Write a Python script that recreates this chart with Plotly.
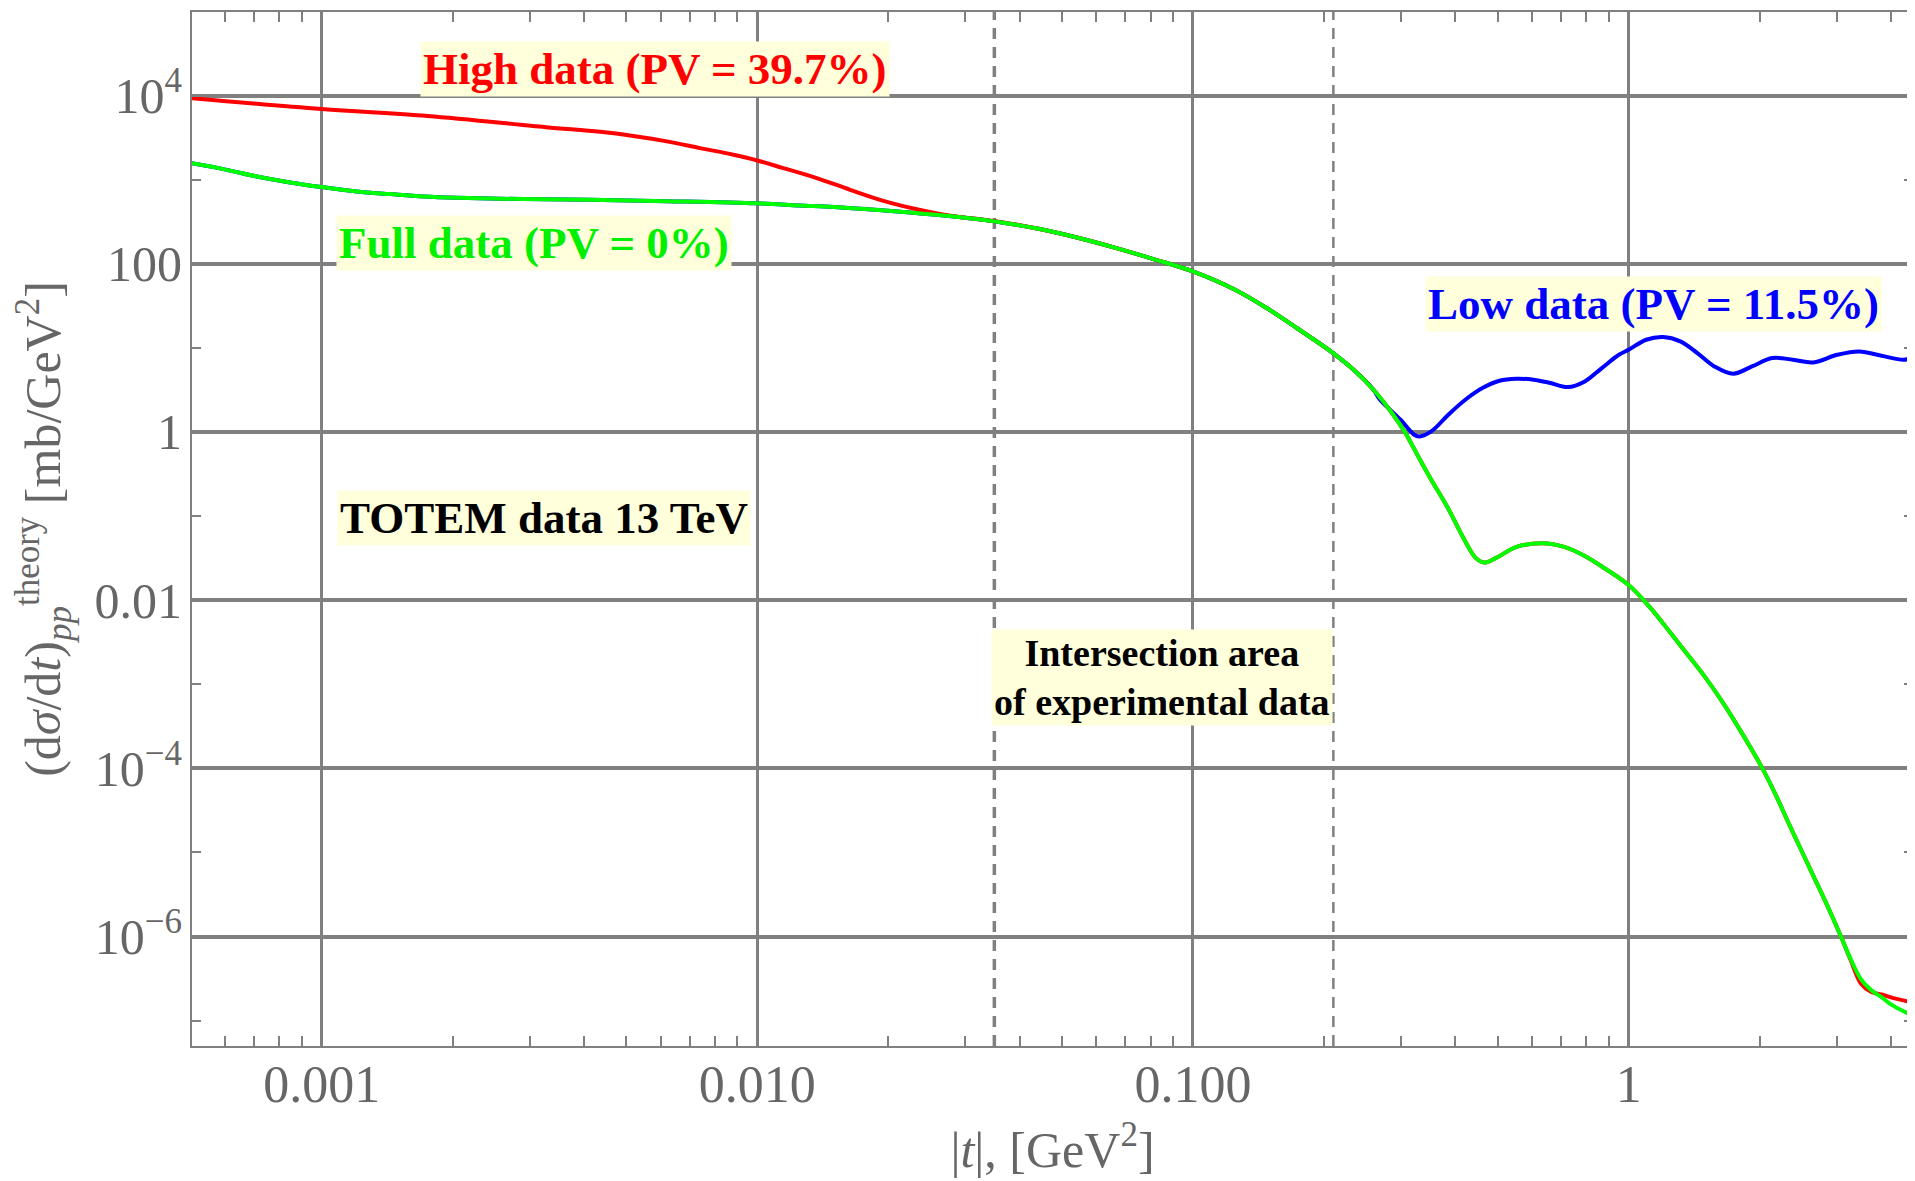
import plotly.graph_objects as go

# |t| values [GeV^2] and theory dsigma/dt [mb/GeV^2]
t_full = [0.000504, 0.000595, 0.00071, 0.000846, 0.001, 0.001205, 0.001436, 0.001713,
          0.002043, 0.002905, 0.004132, 0.0062, 0.01, 0.0125, 0.015, 0.0213,
          0.0303, 0.0361, 0.0439, 0.0541, 0.0667, 0.0822, 0.0999, 0.1249,
          0.1476, 0.1709, 0.1897, 0.2097, 0.2337, 0.2596, 0.2881, 0.3067,
          0.332, 0.3523, 0.3855, 0.4218, 0.4455, 0.466, 0.4963, 0.5529,
          0.6328, 0.7116, 0.7931, 0.8839, 1.0, 1.117, 1.245, 1.362,
          1.491, 1.631, 1.785, 2.025, 2.177, 2.339, 2.514, 2.654,
          2.853, 3.066, 3.236, 3.416, 3.606, 3.807, 4.018, 4.544]
y_full = [1563, 1334, 1089, 925, 815, 723, 673, 630,
          608, 587, 578, 555, 522, 492, 472, 414,
          350, 312, 262, 205, 153.4, 111.4, 81, 49,
          29.7, 17.97, 12.48, 8.66, 5.49, 3.176, 1.602, 0.988,
          0.4676, 0.2704, 0.1221, 0.0498, 0.03185, 0.02797, 0.03185, 0.04292,
          0.04741, 0.04292, 0.03348, 0.02362, 0.0151, 0.00831, 0.004144, 0.00229,
          0.001256, 6.46e-4, 3.09e-4, 1.013e-4, 4.8e-5, 2.126e-5, 9.59e-6, 5.28e-6,
          2.38e-6, 1.022e-6, 5.35e-7, 3.1e-7, 2.3e-7, 1.9e-7, 1.54e-7, 1.11e-7]

t_high = [0.000504, 0.001, 0.00175, 0.00327, 0.004356, 0.005195, 0.006198, 0.007391,
          0.008813, 0.01, 0.01148, 0.01369, 0.01633, 0.01947, 0.02323, 0.0277,
          0.03303, 0.0361, 0.0439, 0.0541, 0.0667, 0.0822, 0.0999, 0.1249,
          0.1476, 0.1709, 0.1897, 0.2097, 0.2337, 0.2596, 0.2881, 0.3067,
          0.332, 0.3523, 0.3855, 0.4218, 0.4455, 0.466, 0.4963, 0.5529,
          0.6328, 0.7116, 0.7931, 0.8839, 1.0, 1.117, 1.245, 1.362,
          1.491, 1.631, 1.785, 2.025, 2.177, 2.339, 2.514, 2.654,
          2.853, 3.066, 3.236, 3.416, 3.606, 3.807, 4.018, 4.544]
y_high = [9300, 6900, 5700, 4200, 3700, 3300, 2850, 2370,
          1973, 1690, 1371, 1043, 757, 560, 445, 372,
          333, 314, 262, 205, 153.4, 111.4, 81, 49,
          29.7, 17.97, 12.48, 8.66, 5.49, 3.176, 1.602, 0.988,
          0.4676, 0.2704, 0.1221, 0.0498, 0.03185, 0.02797, 0.03185, 0.04292,
          0.04741, 0.04292, 0.03348, 0.02362, 0.0151, 0.00831, 0.004144, 0.00229,
          0.001256, 6.46e-4, 3.09e-4, 1.013e-4, 4.8e-5, 2.126e-5, 9.59e-6, 5.28e-6,
          2.38e-6, 1.022e-6, 5.2e-7, 2.75e-7, 2.19e-7, 2.05e-7, 1.88e-7, 1.62e-7]

t_low = [0.000504, 0.000595, 0.00071, 0.000846, 0.001, 0.001205, 0.001436, 0.001713,
         0.002043, 0.002905, 0.004132, 0.0062, 0.01, 0.0125, 0.015, 0.0213,
         0.0303, 0.0361, 0.0439, 0.0541, 0.0667, 0.0822, 0.0999, 0.1249,
         0.1476, 0.1709, 0.1897, 0.2097, 0.2337, 0.2596, 0.2688, 0.2995,
         0.3219, 0.3307, 0.3523, 0.3855, 0.4218, 0.4617, 0.5052, 0.5529,
         0.605, 0.6622, 0.7245, 0.7931, 0.8677, 0.9497, 1.0, 1.097,
         1.2007, 1.314, 1.438, 1.573, 1.738, 1.919, 2.138, 2.382,
         2.654, 3.011, 3.386, 3.807, 4.28, 4.544]
y_low = [1563, 1334, 1089, 925, 815, 723, 673, 630,
         608, 587, 578, 555, 522, 492, 472, 414,
         350, 312, 262, 205, 153.4, 111.4, 81, 49,
         29.7, 17.97, 12.48, 8.66, 5.49, 3.176, 2.415, 1.397,
         0.927, 0.885, 1.015, 1.602, 2.415, 3.325, 4.063, 4.292,
         4.176, 3.812, 3.417, 3.99, 5.745, 8.278, 9.49, 12.48,
         13.43, 11.92, 8.66, 6.015, 4.92, 6.015, 7.555, 7.218,
         6.709, 8.278, 9.067, 8.054, 7.218, 7.765]

# experimental data overlap region
overlap_t = [0.035, 0.21]

y_range = [5.0e-8, 9.84e4]

x_ticks = [0.001, 0.01, 0.1, 1]
x_ticktext = ['0.001', '0.010', '0.100', '1']
y_ticks = [1e-6, 1e-4, 1e-2, 1, 100, 1e4]
y_ticktext = ['10<sup>\u22126</sup>', '10<sup>\u22124</sup>', '0.01', '1', '100', '10<sup>4</sup>']
y_minor = [1e-7, 1e-5, 1e-3, 0.1, 10, 1e3]

GRID = '#808080'
TEXT = '#666666'
SERIF = 'Liberation Serif, Times New Roman, serif'

fig = go.Figure()

# dashed verticals marking where the data sets overlap
for i, t in enumerate(overlap_t):
    fig.add_trace(go.Scatter(x=[t, t], y=y_range, mode='lines', hoverinfo='skip',
                             line=dict(color=GRID, width=3.5 if i == 0 else 2.5, dash='11px,8px')))

fig.add_trace(go.Scatter(x=t_low, y=y_low, mode='lines', name='Low data',
                         line=dict(color='#0000ff', width=4, shape='spline', smoothing=1.0)))
fig.add_trace(go.Scatter(x=t_high, y=y_high, mode='lines', name='High data',
                         line=dict(color='#ff0000', width=4, shape='spline', smoothing=1.0)))
fig.add_trace(go.Scatter(x=t_full, y=y_full, mode='lines', name='Full data',
                         line=dict(color='#00ff00', width=4, shape='spline', smoothing=1.0)))

labels = [
    ('High data (PV = 39.7%)', '#ff0000', -2.236, 4.317, 45),
    ('Full data (PV = 0%)', '#00f000', -2.512, 2.241, 45),
    ('Low data (PV = 11.5%)', '#0000ff', 0.058, 1.524, 45),
    ('TOTEM data 13 TeV', '#000000', -2.489, -1.02, 45),
    ('Intersection area<br>of experimental data', '#000000', -1.071, -2.918, 38),
]
for text, color, lx, ly, size in labels:
    fig.add_annotation(x=lx, y=ly, xref='x', yref='y', text=f'<b>{text}</b>',
                       showarrow=False, bgcolor='#ffffdc', borderpad=2,
                       font=dict(family=SERIF, size=size, color=color))

# the page body adds an 8px offset, so margins are trimmed by that much
fig.update_layout(
    width=1915,
    height=1181,
    margin=dict(l=184, r=10, t=4, b=143),
    plot_bgcolor='white',
    paper_bgcolor='white',
    showlegend=False,
    font=dict(family=SERIF, color=TEXT),
    xaxis=dict(
        type='log',
        range=[-3.2976, 0.6527],
        automargin=False,
        tickvals=x_ticks,
        ticktext=x_ticktext,
        tickfont=dict(size=52, color=TEXT),
        ticklabelstandoff=-8,
        ticks='inside', ticklen=10, tickwidth=2, tickcolor=GRID,
        showgrid=True, gridcolor=GRID, gridwidth=2.5,
        showline=True, linecolor=GRID, linewidth=2, mirror='allticks',
        minor=dict(dtick='D1', ticks='inside', ticklen=10, tickwidth=1.5,
                   tickcolor=GRID, showgrid=False),
        zeroline=False,
        title=dict(text='|<i>t</i>|, [GeV<sup>2</sup>]',
                   font=dict(size=50, color=TEXT), standoff=20),
    ),
    yaxis=dict(
        type='log',
        range=[-7.301, 4.993],
        automargin=False,
        tickvals=y_ticks,
        ticktext=y_ticktext,
        tickfont=dict(size=50, color=TEXT),
        ticklabelstandoff=-2,
        ticks='inside', ticklen=10, tickwidth=2, tickcolor=GRID,
        showgrid=True, gridcolor=GRID, gridwidth=3.5,
        showline=True, linecolor=GRID, linewidth=2, mirror='allticks',
        minor=dict(tickvals=y_minor, ticks='inside', ticklen=9, tickwidth=1.5,
                   tickcolor=GRID, showgrid=False),
        zeroline=False,
        title=dict(text='(d<i>\u03c3</i>/d<i>t</i>)<sub><i>pp</i></sub><sup>theory</sup> [mb/GeV<sup>2</sup>]',
                   font=dict(size=50, color=TEXT), standoff=18),
    ),
)

fig.write_html("out.html")
